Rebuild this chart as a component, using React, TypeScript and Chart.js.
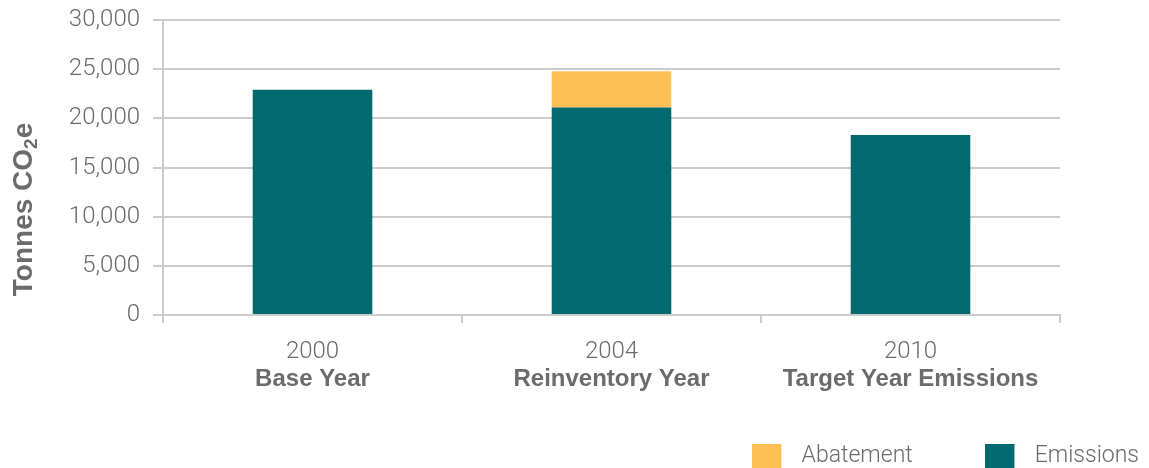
import React, { useEffect, useRef } from "react";
import { Chart, registerables } from "chart.js";

Chart.register(...registerables);

const years = ["2000", "2004", "2010"];
const names = ["Base Year", "Reinventory Year", "Target Year Emissions"];
const emissions = [22900, 21100, 18300];
const abatement = [0, 3700, 0];
const yTicks = [0, 5000, 10000, 15000, 20000, 25000, 30000];
const yTitleParts = ["Tonnes CO", "2", "e"];

const GRAY = "#6b6b6b";
const GRID = "#cccccc";
const TEAL = "#006a6e";
const ORANGE = "#fdc057";
const W = 1212;
const H = 478;

function swatch(color: string) {
  const c = document.createElement("canvas");
  c.width = 38;
  c.height = 25;
  const g = c.getContext("2d")!;
  g.fillStyle = color;
  g.fillRect(0, 0, 29, 25);
  return c;
}

const yTitlePlugin = {
  id: "yTitleSub",
  afterDraw(chart: any) {
    const ctx = chart.ctx;
    const area = chart.chartArea;
    ctx.save();
    ctx.fillStyle = GRAY;
    ctx.textBaseline = "alphabetic";
    ctx.textAlign = "left";
    const big = "bold 28px 'Liberation Sans'";
    const small = "bold 19px 'Liberation Sans'";
    ctx.font = big;
    const w0 = ctx.measureText(yTitleParts[0]).width;
    const w2 = ctx.measureText(yTitleParts[2]).width;
    ctx.font = small;
    const w1 = ctx.measureText(yTitleParts[1]).width;
    const total = w0 + w1 + w2;
    const cy = area.top + (area.bottom - area.top) / 2 + 42;
    ctx.translate(32, cy + total / 2);
    ctx.rotate(-Math.PI / 2);
    ctx.font = big;
    ctx.fillText(yTitleParts[0], 0, 0);
    ctx.font = small;
    ctx.fillText(yTitleParts[1], w0, 5);
    ctx.font = big;
    ctx.fillText(yTitleParts[2], w0 + w1, 0);
    ctx.restore();
  },
};

export default function App() {
  const ref = useRef<HTMLCanvasElement | null>(null);
  useEffect(() => {
    if (!ref.current) return;
    const swatches: Record<string, HTMLCanvasElement> = {
      Emissions: swatch(TEAL),
      Abatement: swatch(ORANGE),
    };
    const chart = new Chart(ref.current, {
      type: "bar",
      data: {
        labels: years,
        datasets: [
          {
            label: "Emissions",
            data: emissions,
            backgroundColor: TEAL,
            categoryPercentage: 1,
            barPercentage: 0.4,
            xAxisID: "x",
          },
          {
            label: "Abatement",
            data: abatement,
            backgroundColor: ORANGE,
            categoryPercentage: 1,
            barPercentage: 0.4,
            xAxisID: "x",
          },
        ],
      },
      plugins: [yTitlePlugin],
      options: {
        responsive: false,
        animation: false,
        devicePixelRatio: 1,
        layout: { padding: { top: 0, right: 0, left: 0, bottom: 0 } },
        plugins: {
          tooltip: { enabled: false },
          legend: {
            position: "bottom",
            align: "end",
            reverse: true,
            labels: {
              usePointStyle: true,
              pointStyleWidth: 37.5,
              boxHeight: 25,
              padding: 73,
              color: GRAY,
              font: { family: "Roboto", size: 23, weight: "300" },
              generateLabels: (c: any) =>
                Chart.defaults.plugins.legend.labels
                  .generateLabels(c)
                  .map((l: any) => ({ ...l, pointStyle: swatches[l.text] })),
            },
          },
        },
        scales: {
          x: {
            stacked: true,
            position: "bottom",
            afterFit: (scale: any) => {
              scale.height = 55;
            },
            grid: {
              display: true,
              drawOnChartArea: false,
              drawTicks: true,
              tickLength: 8,
              color: GRID,
              lineWidth: 2,
              offset: true,
            },
            border: { display: true, color: GRID, width: 2 },
            ticks: {
              color: GRAY,
              padding: 15,
              font: { family: "Roboto", size: 24, weight: "300" },
            },
          },
          x2: {
            type: "category",
            labels: names,
            position: "bottom",
            afterFit: (scale: any) => {
              scale.height = 2;
            },
            grid: { display: false, drawTicks: false },
            border: { display: false },
            ticks: {
              color: GRAY,
              mirror: true,
              padding: -24,
              font: { family: "Liberation Sans", size: 24, weight: "700" },
            },
          },
          y: {
            stacked: true,
            min: 0,
            max: 30000,
            afterBuildTicks: (scale: any) => {
              scale.ticks = yTicks.map((v) => ({ value: v }));
            },
            afterFit: (scale: any) => {
              scale.width = 163;
              scale.paddingTop = 20;
              scale.paddingBottom = 0;
            },
            grid: { color: GRID, lineWidth: 2, tickLength: 10 },
            border: { display: true, color: GRID, width: 2 },
            ticks: {
              color: GRAY,
              padding: 13,
              font: { family: "Roboto", size: 24, weight: "300" },
              callback: (v: any) => Number(v).toLocaleString("en-US"),
            },
            title: { display: false },
          },
          y2: {
            type: "linear",
            position: "right",
            afterFit: (scale: any) => {
              scale.width = W - 1060;
              scale.paddingTop = 0;
              scale.paddingBottom = 0;
            },
            grid: { display: false, drawTicks: false },
            border: { display: false },
            ticks: { display: false },
          },
        },
      },
    });
    return () => chart.destroy();
  }, []);
  return (
    <div
      style={{
        position: "fixed",
        left: 0,
        top: 0,
        width: 1149,
        height: 468,
        overflow: "hidden",
      }}
    >
      <canvas ref={ref} width={W} height={H} />
    </div>
  );
}
